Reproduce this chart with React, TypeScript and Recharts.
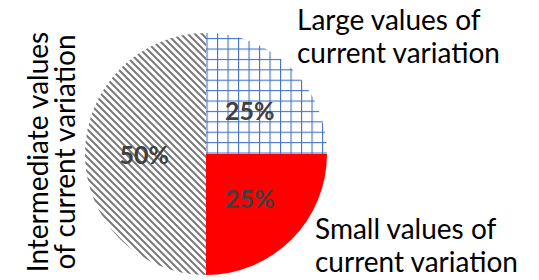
import React from "react";
import { PieChart, Pie, Cell } from "recharts";

const sliceNames = [
  "Large values of current variation",
  "Small values of current variation",
  "Intermediate values of current variation",
];
const nameLines = [
  ["Large values of", "current variation"],
  ["Small values of", "current variation"],
  ["Intermediate values", "of current variation"],
];
const shares = [25, 25, 50];
const sliceFills = ["url(#gridPat)", "#FE0000", "url(#hatchPat)"];

const data = sliceNames.map((name, i) => ({ name, value: shares[i] }));

const RAD = Math.PI / 180;
const FONT = "Lato, 'Open Sans', sans-serif";

const renderLabel = (props: any) => {
  const { cx, cy, midAngle, outerRadius, index, percent } = props;
  const r = outerRadius * 0.51;
  const x = cx + r * Math.cos(-midAngle * RAD);
  const y = cy + r * Math.sin(-midAngle * RAD);
  const pct = `${Math.round(percent * 100)}%`;
  const lines = nameLines[index];
  let nameEl: React.ReactNode = null;
  if (index === 0) {
    nameEl = (
      <text x={cx + 91} y={cy - 124} fontSize={28} fill="#000" fontFamily={FONT}>
        <tspan x={cx + 91} y={cy - 124}>{lines[0]}</tspan>
        <tspan x={cx + 91} y={cy - 91}>{lines[1]}</tspan>
      </text>
    );
  } else if (index === 1) {
    nameEl = (
      <text x={cx + 109} y={cy + 85} fontSize={28} fill="#000" fontFamily={FONT}>
        <tspan x={cx + 109} y={cy + 85}>{lines[0]}</tspan>
        <tspan x={cx + 109} y={cy + 118}>{lines[1]}</tspan>
      </text>
    );
  } else {
    const ax = cx - 158;
    const ay = cy - 2;
    nameEl = (
      <text
        transform={`translate(${ax},${ay}) rotate(-90)`}
        textAnchor="middle"
        fontSize={28}
        fill="#000"
        fontFamily={FONT}
      >
        <tspan x={0} y={0}>{lines[0]}</tspan>
        <tspan x={0} y={27}>{lines[1]}</tspan>
      </text>
    );
  }
  return (
    <g key={`lbl-${index}`}>
      <text
        x={x}
        y={y}
        textAnchor="middle"
        dominantBaseline="central"
        fontSize={25}
        fontWeight="bold"
        fill="#404040"
        fontFamily={FONT}
      >
        {pct}
      </text>
      {nameEl}
    </g>
  );
};

export default function App() {
  return (
    <div style={{ position: "absolute", left: 0, top: 0, width: 539, height: 280, background: "#fff" }}>
      <PieChart width={539} height={280} margin={{ top: 0, right: 0, bottom: 0, left: 0 }}>
        <defs>
          <pattern id="gridPat" patternUnits="userSpaceOnUse" x={206.5} y={152.5} width={10.5} height={10.4}>
            <rect x={0} y={0} width={10.5} height={10.4} fill="#fff" />
            <line x1={0.5} y1={0} x2={0.5} y2={10.4} stroke="#4472C4" strokeWidth={1.2} />
            <line x1={0} y1={0.5} x2={10.5} y2={0.5} stroke="#4472C4" strokeWidth={1.2} />
          </pattern>
          <pattern id="hatchPat" patternUnits="userSpaceOnUse" width={7} height={7}>
            <rect x={0} y={0} width={7} height={7} fill="#fff" />
            <path d="M-1,-1 L8,8 M-1,6 L1,8 M6,-1 L8,1" stroke="#7a7a7a" strokeWidth={2} />
          </pattern>
        </defs>
        <Pie
          data={data}
          dataKey="value"
          nameKey="name"
          cx={206}
          cy={154}
          outerRadius={121}
          startAngle={90}
          endAngle={-270}
          stroke="none"
          labelLine={false}
          label={renderLabel}
          isAnimationActive={false}
        >
          {data.map((d, i) => (
            <Cell key={d.name} fill={sliceFills[i]} />
          ))}
        </Pie>
      </PieChart>
    </div>
  );
}
